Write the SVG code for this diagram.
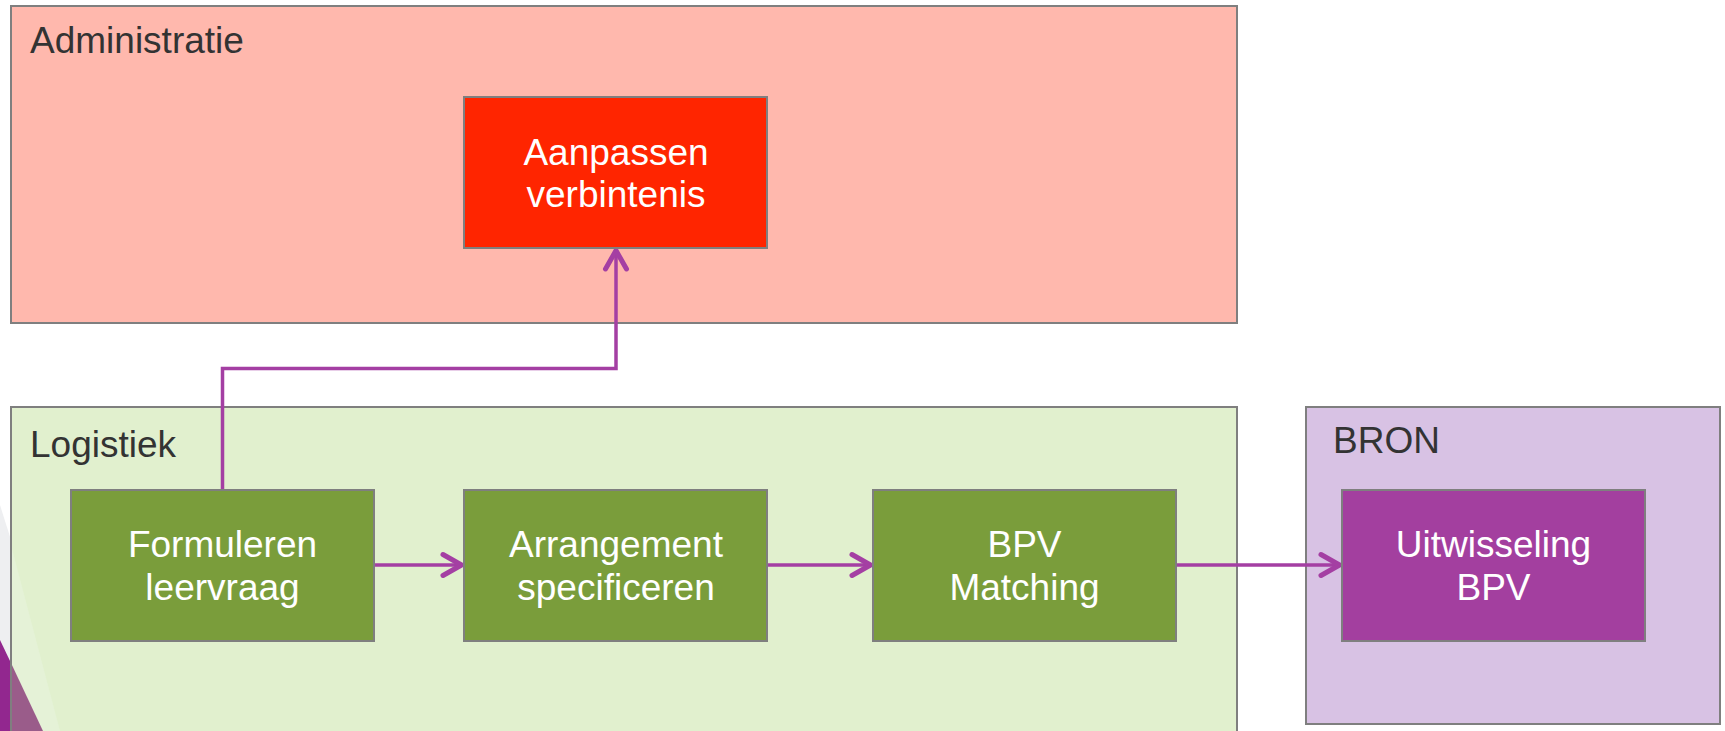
<svg xmlns="http://www.w3.org/2000/svg" width="1725" height="731" viewBox="0 0 1725 731">
  <defs>
    <style>
      .container { stroke: #7F7F7F; stroke-width: 2; }
      .node { stroke: #7F7F7F; stroke-width: 2; }
      .title { font-family: "Liberation Sans", Arial, sans-serif; font-size: 37px; fill: #333333; }
      .label { font-family: "Liberation Sans", Arial, sans-serif; font-size: 37px; fill: #FFFFFF; text-anchor: middle; }
      .conn { fill: none; stroke: #A43FA3; stroke-width: 3.5; }
    </style>
    <marker id="arrow" markerUnits="userSpaceOnUse" markerWidth="30" markerHeight="30" viewBox="-28 -15 30 30" refX="0" refY="0" orient="auto">
      <path d="M-21,-10.5 L-2.5,0 L-21,10.5" fill="none" stroke="#A43FA3" stroke-width="5" stroke-linecap="round" stroke-linejoin="round"/>
    </marker>
  </defs>

  <rect x="0" y="0" width="1725" height="731" fill="#FFFFFF"/>

  <!-- background decoration -->
  <g id="decoration">
    <polygon points="0,505 11,540 11,731 0,731" fill="#EEEFF1"/>
    <polygon points="0,640 11,663 11,731 0,731" fill="#92278F"/>
  </g>

  <g id="admin">
    <rect class="container" x="11" y="6" width="1226" height="317" fill="#FFB8AD"/>
    <text class="title" x="30" y="53">Administratie</text>
  </g>

  <g id="logistiek">
    <rect class="container" x="11" y="407" width="1226" height="340" fill="#E1F0CE"/>
    <polygon points="11,545 60,731 11,731" fill="#E5F2D7"/>
    <polygon points="11,663 43,731 11,731" fill="#9A5C8A"/>
    <line x1="11" y1="407" x2="11" y2="731" stroke="#7F7F7F" stroke-width="2"/>
    <text class="title" x="30" y="457">Logistiek</text>
  </g>

  <g id="bron">
    <rect class="container" x="1306" y="407" width="414" height="317" fill="#D8C2E4"/>
    <text class="title" x="1333" y="453">BRON</text>
  </g>

  <g id="connectors">
    <path class="conn" d="M222.5,490 V368.5 H616 V248" marker-end="url(#arrow)"/>
    <path class="conn" d="M374,565 H464" marker-end="url(#arrow)"/>
    <path class="conn" d="M767,565 H873" marker-end="url(#arrow)"/>
    <path class="conn" d="M1176,565 H1342" marker-end="url(#arrow)"/>
  </g>

  <g id="aanpassen">
    <rect class="node" x="464" y="97" width="303" height="151" fill="#FF2500"/>
    <text class="label" x="616" y="165">Aanpassen</text>
    <text class="label" x="616" y="207">verbintenis</text>
  </g>

  <g id="formuleren">
    <rect class="node" x="71" y="490" width="303" height="151" fill="#7A9D3B"/>
    <text class="label" x="222.5" y="557">Formuleren</text>
    <text class="label" x="222.5" y="600">leervraag</text>
  </g>

  <g id="arrangement">
    <rect class="node" x="464" y="490" width="303" height="151" fill="#7A9D3B"/>
    <text class="label" x="616" y="557">Arrangement</text>
    <text class="label" x="616" y="600">specificeren</text>
  </g>

  <g id="bpv-matching">
    <rect class="node" x="873" y="490" width="303" height="151" fill="#7A9D3B"/>
    <text class="label" x="1024.5" y="557">BPV</text>
    <text class="label" x="1024.5" y="600">Matching</text>
  </g>

  <g id="uitwisseling">
    <rect class="node" x="1342" y="490" width="303" height="151" fill="#A33F9F"/>
    <text class="label" x="1493.5" y="557">Uitwisseling</text>
    <text class="label" x="1493.5" y="600">BPV</text>
  </g>
</svg>
